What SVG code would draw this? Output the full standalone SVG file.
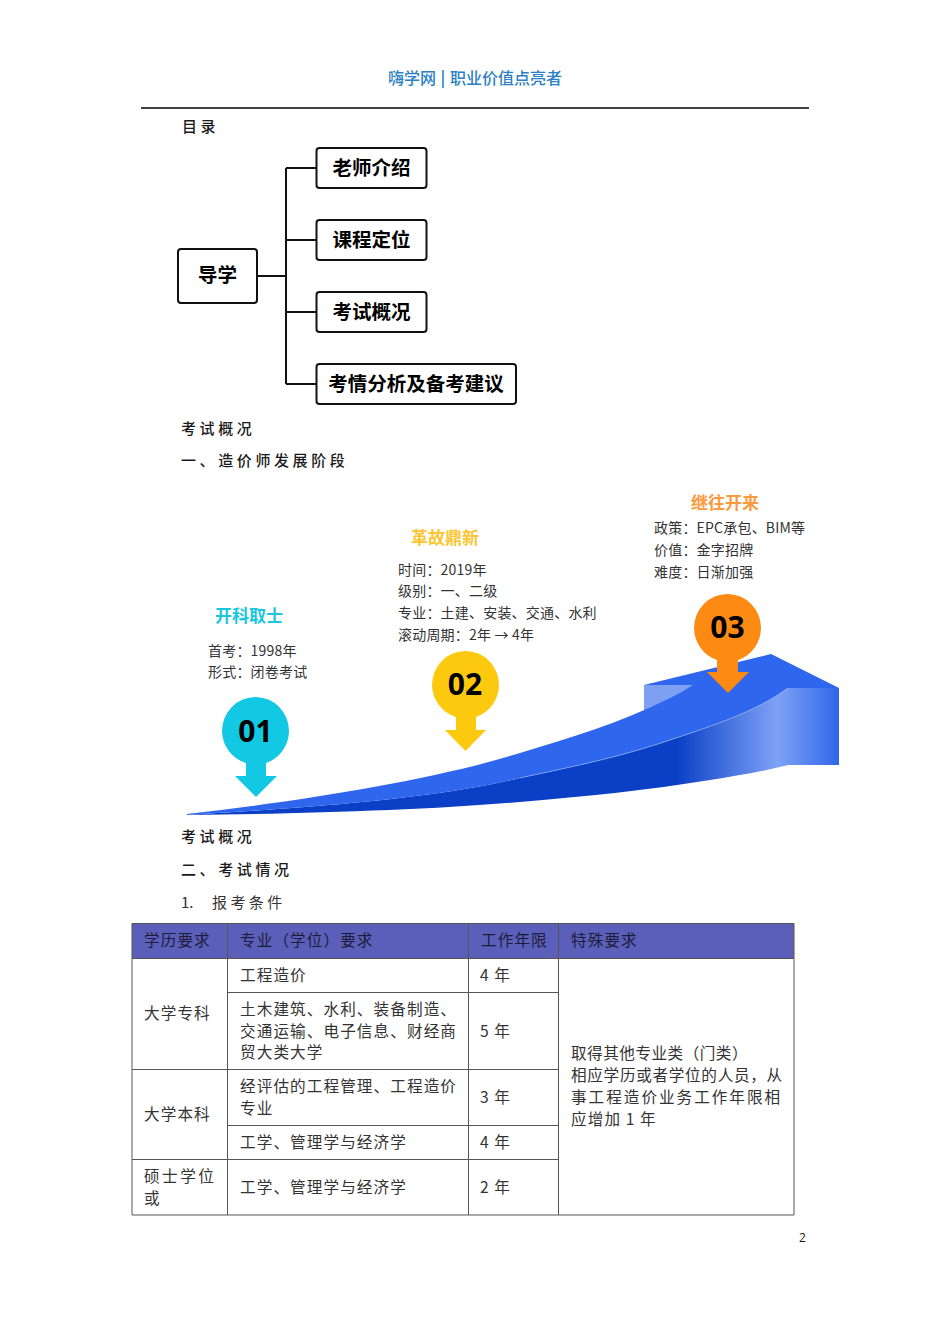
<svg xmlns="http://www.w3.org/2000/svg" width="950" height="1344" viewBox="0 0 950 1344">
<style>
text{font-family:"Noto Sans CJK SC","Liberation Sans",sans-serif;fill:#1a1a1a}
.body{font-size:15px;letter-spacing:3.6px;font-weight:500}
.hd{font-size:16px;font-weight:500;fill:#2b7fc3}
.node{fill:#fff;stroke:#111;stroke-width:2}
.nt{font-size:19.5px;font-weight:700;text-anchor:middle;fill:#000}
.conn{fill:none;stroke:#111;stroke-width:2}
.ttl{font-size:17px;font-weight:700}
.info{font-size:14px;letter-spacing:.2px;fill:#333}
.num{font-family:"Open Sans","Liberation Sans",sans-serif;font-size:30px;font-weight:700;text-anchor:middle;fill:#000}
.td{font-size:15.6px;letter-spacing:1.1px;fill:#333}
.th{font-size:15.6px;letter-spacing:1.1px;fill:#1c1c3a}
.gl{fill:none;stroke:#555;stroke-width:1}
.yr{font-size:15.6px;letter-spacing:1px;fill:#333}
</style>
<defs>
<linearGradient id="front" gradientUnits="userSpaceOnUse" x1="677" y1="0" x2="839" y2="0">
<stop offset="0" stop-color="#0b40c6"/><stop offset=".62" stop-color="#7ea2f6"/><stop offset="1" stop-color="#2f66ea"/>
</linearGradient>
</defs>
<rect width="950" height="1344" fill="#fff"/>
<text class="hd" x="388" y="84">嗨学网</text>
<text class="hd" x="440.500" y="84" style="font-weight:700">|</text>
<text class="hd" x="450" y="84">职业价值点亮者</text>
<path d="M141 108H809" stroke="#000" stroke-width="1.500"/>
<text class="body" x="182" y="131.500">目录</text>

<g id="connectors">
<path class="conn" d="M257 276H286M286 168V384M286 168H316M286 240H316M286 312H316M286 384H316"/>
</g>
<g id="node-root"><rect class="node" x="178" y="249" width="79" height="54" rx="3"/><text class="nt" x="217.500" y="282">导学</text></g>
<g id="node-1"><rect class="node" x="316.500" y="148" width="110" height="40" rx="3"/><text class="nt" x="371.500" y="174.500">老师介绍</text></g>
<g id="node-2"><rect class="node" x="316.500" y="220" width="110" height="40" rx="3"/><text class="nt" x="371.500" y="246.500">课程定位</text></g>
<g id="node-3"><rect class="node" x="316.500" y="292" width="110" height="40" rx="3"/><text class="nt" x="371.500" y="318.500">考试概况</text></g>
<g id="node-4"><rect class="node" x="316.500" y="364" width="199.500" height="40" rx="3"/><text class="nt" x="416" y="390.500">考情分析及备考建议</text></g>

<text class="body" x="181" y="434">考试概况</text>
<text class="body" x="181" y="466">一、造价师发展阶段</text>

<g id="ramp">
<path fill="#7da0f3" d="M644 685H696L644 712Z"/>
<path fill="url(#front)" d="M187 815C300 808 430 800 520 778C580 765 620 757 670 740C715 725 755 712 788 688H839V765H788C765 771 735 776 710 780C650 790 580 797 520 802C430 810 300 814 187 815Z"/>
<path fill="#2e66ee" d="M187 814C300 801 430 781 520 753C570 738 620 723 670 698C680 693 687 689 693 685H644L771 654L839 688H788C755 712 715 725 670 740C620 757 580 765 520 778C430 800 300 808 187 815Z"/>
<path fill="none" stroke="#9db8f8" stroke-width=".6" d="M520 778C580 765 620 757 670 740C715 725 755 712 788 688"/>
</g>

<g id="stage-1">
<path fill="#13c8e2" d="M222 731a33.500 34 0 1 1 67 0a33.500 34 0 0 1-23 32V776H277L256 797L235 776H246V763a33.500 34 0 0 1-24-32Z"/>
<text class="num" x="255.500" y="742">01</text>
<text class="ttl" x="215" y="622" style="fill:#19c6dc">开科取士</text>
<text class="info" x="208" y="656">首考：1998年</text>
<text class="info" x="208" y="677">形式：闭卷考试</text>
</g>
<g id="stage-2">
<path fill="#fdc90f" d="M432 685a33.500 34 0 1 1 67 0a33.500 34 0 0 1-23 32V730H486L465.500 751L445 730H456V717a33.500 34 0 0 1-24-32Z"/>
<text class="num" x="465" y="695">02</text>
<text class="ttl" x="411" y="544" style="fill:#fcc630">革故鼎新</text>
<text class="info" x="398" y="575">时间：2019年</text>
<text class="info" x="398" y="596">级别：一、二级</text>
<text class="info" x="398" y="618">专业：土建、安装、交通、水利</text>
<text class="info" x="398" y="640">滚动周期：2年 → 4年</text>
</g>
<g id="stage-3">
<path fill="#fd8a13" d="M694 628a33.500 34 0 1 1 67 0a33.500 34 0 0 1-23 32V672H749L728 693L707 672H717V660a33.500 34 0 0 1-23-32Z"/>
<text class="num" x="727.500" y="638">03</text>
<text class="ttl" x="691" y="509" style="fill:#fb9a3c">继往开来</text>
<text class="info" x="654" y="533">政策：EPC承包、BIM等</text>
<text class="info" x="654" y="555">价值：金字招牌</text>
<text class="info" x="654" y="577">难度：日渐加强</text>
</g>

<text class="body" x="181" y="842">考试概况</text>
<text class="body" x="181" y="875">二、考试情况</text>
<text x="181" y="907.500" font-size="15" style="fill:#333">1.</text>
<text x="212" y="907.500" font-size="15" letter-spacing="3.400" style="fill:#333">报考条件</text>

<g id="table">
<rect x="132" y="923.500" width="662" height="35" fill="#5b5fb9"/>
<path class="gl" d="M132 923.500H794V1215H132ZM227.500 923.500V1215M468.500 923.500V1215M558.500 923.500V1215M132 958.500H794M227.500 992.500H558.500M132 1069.500H558.500M227.500 1125.500H558.500M132 1159.500H558.500"/>
<text class="th" x="144" y="946">学历要求</text>
<text class="th" x="240" y="946">专业（学位）要求</text>
<text class="th" x="481" y="946">工作年限</text>
<text class="th" x="571" y="946">特殊要求</text>
<text class="td" x="144" y="1019">大学专科</text>
<text class="td" x="144" y="1120">大学本科</text>
<text class="td" x="144" y="1182" style="letter-spacing:2.500px">硕士学位</text>
<text class="td" x="144" y="1204">或</text>
<text class="td" x="240" y="981">工程造价</text>
<text class="td" x="240" y="1015">土木建筑、水利、装备制造、</text>
<text class="td" x="240" y="1037">交通运输、电子信息、财经商</text>
<text class="td" x="240" y="1058">贸大类大学</text>
<text class="td" x="240" y="1092">经评估的工程管理、工程造价</text>
<text class="td" x="240" y="1114">专业</text>
<text class="td" x="240" y="1148">工学、管理学与经济学</text>
<text class="td" x="240" y="1193">工学、管理学与经济学</text>
<text class="yr" x="480" y="981">4 年</text>
<text class="yr" x="480" y="1037">5 年</text>
<text class="yr" x="480" y="1103">3 年</text>
<text class="yr" x="480" y="1148">4 年</text>
<text class="yr" x="480" y="1193">2 年</text>
<text class="td" x="571" y="1059" style="letter-spacing:.5px">取得其他专业类（门类）</text>
<text class="td" x="571" y="1081" style="letter-spacing:.7px">相应学历或者学位的人员，从</text>
<text class="td" x="571" y="1103" style="letter-spacing:2px">事工程造价业务工作年限相</text>
<text class="td" x="571" y="1125">应增加 1 年</text>
</g>
<text x="799" y="1242" font-size="12" style="font-family:'Open Sans',sans-serif">2</text>
</svg>
